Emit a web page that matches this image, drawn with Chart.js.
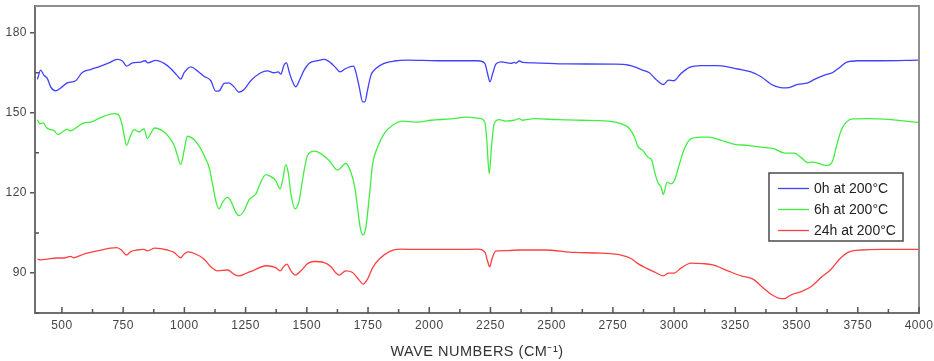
<!DOCTYPE html>
<html>
<head>
<meta charset="utf-8">
<script src="https://cdn.jsdelivr.net/npm/chart.js@4"></script>
<style>
  html, body { margin: 0; padding: 0; background: #fff; }
  #wrap { width: 934px; height: 361px; }
</style>
</head>
<body>
<div id="wrap"><canvas id="ir"></canvas></div>
<script>
// wave numbers (cm-1) and readings for each run
const wave0 = [400,413,426,440,454,474,495,522,556,583,617,658,692,726,747,764,788,822,839,851,883,917,944,969,985,999,1026,1053,1080,1108,1128,1142,1162,1182,1203,1223,1244,1271,1312,1339,1366,1383,1394,1407,1417,1428,1442,1455,1469,1489,1509,1544,1571,1598,1619,1636,1659,1691,1700,1714,1728,1737,1748,1762,1782,1816,1857,1911,2034,2198,2227,2238,2248,2259,2272,2293,2334,2347,2354,2368,2381,2429,2565,2756,2811,2845,2865,2899,2926,2956,2977,2999,3028,3063,3110,3178,3260,3314,3355,3396,3430,3458,3505,3546,3573,3614,3648,3676,3703,3751,3846,4000]
const val0 = [162.5,166,164.1,162.9,159.7,158.2,159.3,161.2,162,165.1,166.2,167.5,168.7,170,169.4,167.5,168.7,169,169.5,168.7,169.6,168.5,166.6,164.1,162.6,165,167.2,165.7,163.7,162,158.1,158.2,161,161.2,159.7,157.7,158.7,162,165,165.7,165,165.3,164.5,167.9,168.7,165.3,161.6,159.7,162,166,168.5,169.5,170,168.7,166.8,165.3,166.6,167.5,165.3,159.7,154.1,154.1,158.5,164.1,166.6,168.5,169.4,169.7,169.5,169.5,168.5,164.7,161.6,164.7,168.2,169.1,168.5,168.9,168.6,169.4,168.9,168.7,168.3,168.2,167.9,167,166.2,165,162.5,160.6,162.2,162,164.7,167,167.7,167.7,166.4,165.3,163.5,160.7,159.5,159.3,160.6,161.2,162.5,164.1,165.1,167,168.9,169.5,169.5,169.7]

const wave6 = [400,410,424,437,454,467,484,502,522,533,563,590,617,658,713,729,743,754,764,778,794,815,835,849,862,879,917,937,958,972,985,999,1012,1040,1067,1087,1101,1115,1128,1142,1156,1176,1189,1210,1223,1244,1264,1292,1312,1333,1353,1373,1391,1401,1414,1424,1435,1452,1469,1482,1503,1530,1557,1591,1625,1639,1659,1680,1696,1707,1718,1730,1741,1755,1769,1789,1816,1850,1891,1952,2007,2088,2157,2211,2227,2235,2245,2254,2265,2286,2313,2347,2368,2381,2429,2525,2620,2729,2783,2817,2838,2852,2872,2892,2909,2919,2933,2947,2956,2971,2988,3001,3022,3042,3069,3110,3144,3192,3247,3301,3355,3410,3451,3491,3519,3546,3567,3587,3607,3628,3648,3662,3682,3703,3730,3791,3886,3955,4000]
const val6 = [147.4,145.9,146.2,144.4,143.7,143.4,141.9,142.8,143.9,143.2,144.7,146.2,146.5,148.2,149.7,149.4,146.5,141.5,137.8,140.9,143.7,142.8,144.1,140.3,142.2,144.3,142.8,140.9,137.8,134,130.6,135.9,141.2,139.9,136.5,132.8,129.6,123.4,117.1,114,116.5,118.3,117.1,112.7,111.5,113.3,117.4,119.6,124,126.8,126.1,124.6,121.5,124.6,130.6,127.7,119.6,114,117.1,124.6,134,135.6,134.7,132.1,128.6,129.4,131.1,127.7,122.1,114.6,107.1,104.2,107.1,118.3,130.9,137.1,142.2,145.3,146.9,146.5,147.2,147.7,148.4,147.8,146.5,139.7,127.1,137.1,145.9,147.4,146.9,147.2,147.8,147.2,147.8,147.4,147.2,146.9,145.9,144.1,140.9,137.4,135.9,133.4,132.1,128.4,124,122.1,119.4,124,123.4,124.6,130.9,136.5,140.3,140.9,140.9,139.7,138.2,137.8,137.1,136.5,134.9,134.9,133.2,131.3,131.5,131.1,130.5,130.3,132.1,137.1,143.4,146.5,147.7,147.8,147.4,146.8,146.4]

const wave24 = [400,413,440,481,508,536,547,590,645,699,724,743,763,781,808,835,849,879,931,958,985,999,1015,1046,1080,1108,1135,1176,1203,1223,1251,1285,1333,1373,1391,1405,1418,1435,1452,1476,1503,1530,1571,1598,1619,1632,1659,1687,1714,1730,1748,1769,1796,1837,1884,1952,2116,2198,2228,2238,2247,2256,2272,2320,2374,2470,2593,2702,2783,2824,2852,2886,2919,2956,2977,2999,3028,3069,3117,3158,3219,3274,3322,3363,3396,3430,3450,3478,3519,3560,3600,3641,3676,3710,3764,3846,4000]
const val24 = [95.2,94.9,95.2,95.6,95.6,96.2,95.7,97.1,98.3,99.3,99.5,98.6,96.7,98,98.6,98.8,98.3,99.3,98.6,97.7,95.7,97.1,97.9,97.1,95.2,92.3,90.8,91.1,89.5,88.9,89.8,91.1,92.7,92,90.8,92.3,93.3,90.8,89.2,90.8,93.5,94.3,93.9,92.4,90,89.2,90.8,90.2,87.3,85.8,87.7,92,95.2,98,98.9,98.8,98.8,98.9,97.7,94.5,92.3,95.2,98.3,98.4,98.6,98.6,97.7,97.4,96.7,95.4,93.5,91.8,90.4,88.9,89.9,89.9,91.8,93.7,93.5,93,90.8,88.9,87.7,84.5,82,80.5,80.4,81.8,83,84.9,88.3,91.4,95.2,97.7,98.6,98.8,98.8]

const seriesNames = ["0h at 200°C", "6h at 200°C", "24h at 200°C"]
const xTicks = [500, 750, 1000, 1250, 1500, 1750, 2000, 2250, 2500, 2750, 3000, 3250, 3500, 3750, 4000]
const yTicks = [90, 120, 150, 180]

function pts(xs, ys) {
  var out = []
  for (let i = 0; i < xs.length; i++) {
    out.push({ x: xs[i], y: ys[i] })
  }
  return out
}

const colors = ["#4040ff", "#40ee40", "#ff4040"]
const font = "'Liberation Sans', Arial, sans-serif"

// frame, inside ticks and the boxed legend
const decor = {
  id: "decor",
  beforeDraw(chart) {
    chart.ctx.letterSpacing = "0.5px"
  },
  beforeDatasetsDraw(chart) {
    chart.ctx.letterSpacing = "0px"
  },
  afterDraw(chart) {
    const ctx = chart.ctx
    const a = chart.chartArea
    const x = chart.scales.x
    const y = chart.scales.y
    ctx.save()
    ctx.lineCap = "butt"
    ctx.strokeStyle = "#8e8e8e"
    ctx.lineWidth = 2
    ctx.beginPath()
    ctx.moveTo(a.left, a.top)
    ctx.lineTo(a.right, a.top)
    ctx.lineTo(a.right, a.bottom)
    ctx.stroke()

    ctx.strokeStyle = "#555"
    ctx.lineWidth = 1.5
    ctx.beginPath()
    xTicks.forEach(function(v) {
      let px = x.getPixelForValue(v)
      ctx.moveTo(px, a.bottom)
      ctx.lineTo(px, a.bottom - 6)
      let mpx = x.getPixelForValue(v + 125)
      if (v + 125 < 4000) {
        ctx.moveTo(mpx, a.bottom)
        ctx.lineTo(mpx, a.bottom - 4)
      }
    })
    yTicks.forEach(function(v) {
      let py = y.getPixelForValue(v - 15)
      ctx.moveTo(a.left, py)
      ctx.lineTo(a.left + 4, py)
    })
    ctx.moveTo(a.left, y.getPixelForValue(165))
    ctx.lineTo(a.left + 4, y.getPixelForValue(165))
    ctx.stroke()

    // legend
    const lx = 769, ly = 173, lw = 134, lh = 68
    ctx.fillStyle = "#fff"
    ctx.fillRect(lx, ly, lw, lh)
    ctx.strokeStyle = "#4a4a4a"
    ctx.lineWidth = 1.5
    ctx.strokeRect(lx, ly, lw, lh)
    ctx.font = "14px " + font
    ctx.textBaseline = "middle"
    ctx.fillStyle = "#222"
    chart.data.datasets.forEach(function(ds, i) {
      let yy = ly + 15.5 + i * 21
      ctx.strokeStyle = ds.borderColor
      ctx.lineWidth = 1.3
      ctx.beginPath()
      ctx.moveTo(lx + 9, yy)
      ctx.lineTo(lx + 40, yy)
      ctx.stroke()
      ctx.fillText(ds.label, lx + 45, yy + 1)
    })
    ctx.restore()
  }
}

const config = {
  type: "line",
  data: {
    datasets: [
      { label: seriesNames[0], data: pts(wave0, val0), borderColor: colors[0] },
      { label: seriesNames[1], data: pts(wave6, val6), borderColor: colors[1] },
      { label: seriesNames[2], data: pts(wave24, val24), borderColor: colors[2] }
    ]
  },
  options: {
    responsive: true,
    maintainAspectRatio: false,
    animation: false,
    elements: {
      point: { radius: 0, hoverRadius: 0 },
      line: { borderWidth: 1.3, cubicInterpolationMode: "monotone", fill: false }
    },
    layout: {
      autoPadding: false,
      padding: { top: 6, right: 15, bottom: 0, left: 0 }
    },
    plugins: {
      legend: { display: false },
      title: { display: false },
      tooltip: { enabled: false }
    },
    scales: {
      x: {
        type: "linear",
        min: 390,
        max: 4000,
        afterBuildTicks: function(scale) {
          scale.ticks = xTicks.map(v => ({ value: v }))
        },
        afterFit: function(scale) {
          scale.height = 48
          scale.paddingLeft = 0
          scale.paddingRight = 0
        },
        border: { color: "#707070", width: 2 },
        grid: { drawOnChartArea: false, drawTicks: false },
        ticks: {
          color: "#444",
          padding: 5,
          maxRotation: 0,
          autoSkip: false,
          font: { family: font, size: 12 },
          callback: v => String(v)
        },
        title: {
          display: true,
          text: "WAVE NUMBERS (CM⁻¹)",
          color: "#333",
          padding: { top: 2, bottom: 0 },
          font: { family: font, size: 14.5 }
        }
      },
      y: {
        min: 75,
        max: 190,
        afterBuildTicks: function(scale) {
          scale.ticks = yTicks.map(v => ({ value: v }))
        },
        afterFit: function(scale) {
          scale.width = 35
          scale.paddingTop = 0
          scale.paddingBottom = 0
        },
        border: { color: "#707070", width: 2 },
        grid: { drawOnChartArea: false, drawTicks: true, tickLength: 5, color: "#555", lineWidth: 1.5 },
        ticks: {
          color: "#444",
          padding: 3,
          font: { family: font, size: 12 },
          callback: v => String(v)
        }
      }
    }
  },
  plugins: [decor]
}

const chart = new Chart(document.getElementById("ir"), config)
</script>
</body>
</html>
